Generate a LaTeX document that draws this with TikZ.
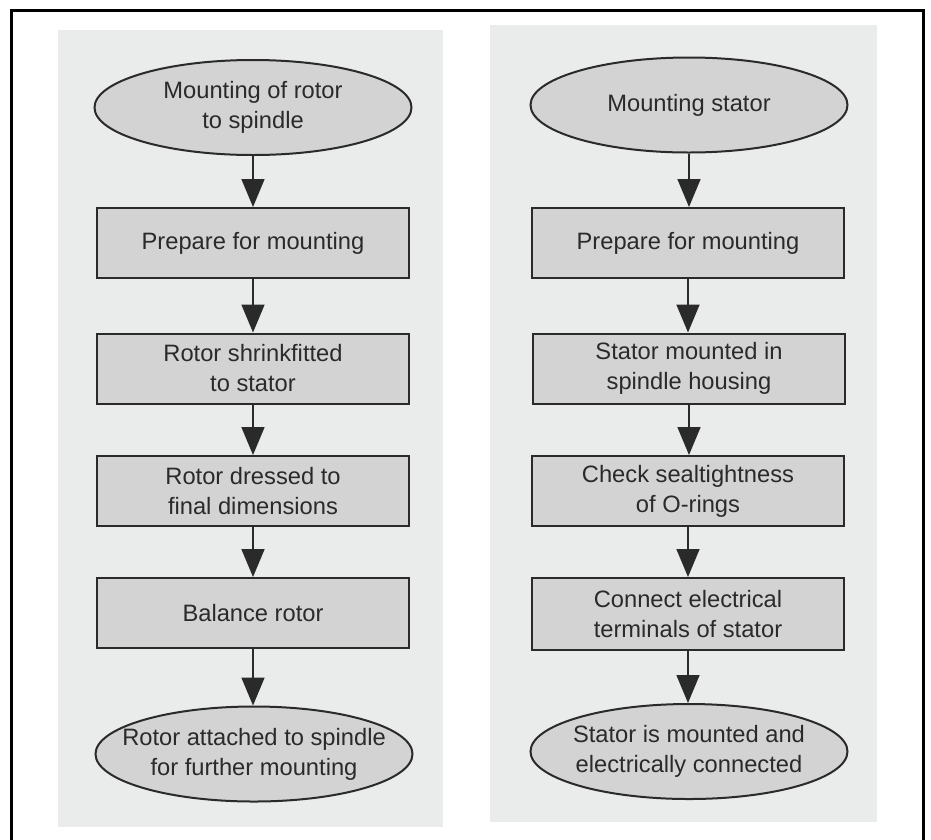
\documentclass[tikz,border=0pt]{standalone}
\usepackage{fontspec}
\setmainfont{Liberation Sans}
\usetikzlibrary{shapes.geometric,arrows.meta}
\definecolor{panelbg}{HTML}{EAECEB}
\definecolor{nodefill}{HTML}{D2D3D2}
\definecolor{ink}{HTML}{2A2A2A}
\tikzset{
  steptext/.style={text=ink,align=center,font=\fontsize{23.7}{30}\selectfont,inner sep=0pt},
  stepbox/.style={draw=ink,line width=2pt,fill=nodefill,rectangle,
    minimum width=312pt,minimum height=70pt,steptext},
  terminal/.style={draw=ink,line width=2pt,fill=nodefill,ellipse,inner sep=0pt,
    minimum width=317pt,minimum height=95pt,label={[steptext]center:#1}},
  flow/.style={draw=ink,line width=1.7pt,-{Triangle[width=23pt,length=28pt]}},
  panel/.style={fill=panelbg,draw=none}
}
\begin{document}
\begin{tikzpicture}[x=1pt,y=-1pt]
\useasboundingbox (0,0) rectangle (931,839);
\clip (0,0) rectangle (931,839);
\fill[white] (0,0) rectangle (931,839);
% outer frame, open at the bottom edge of the page
\draw[black,line width=3pt] (11.5,860) -- (11.5,10.5) -- (923,10.5) -- (923,860);
% column backgrounds
\fill[panel] (58,30) rectangle (443,827);
\fill[panel] (490,25) rectangle (877,822);

% rotor column
\node[terminal={Mounting of rotor\\to spindle}] (r0) at (253,107.5) {};
\node[stepbox] (r1) at (253,243) {Prepare for mounting};
\node[stepbox] (r2) at (253,368.5) {Rotor shrinkfitted\\to stator};
\node[stepbox] (r3) at (253,491) {Rotor dressed to\\final dimensions};
\node[stepbox] (r4) at (253,613) {Balance rotor};
\node[terminal={Rotor attached to spindle\\for further mounting}] (r5) at (254,754) {};

% stator column
\node[terminal={Mounting stator}] (s0) at (689,105) {};
\node[stepbox] (s1) at (688,243) {Prepare for mounting};
\node[stepbox] (s2) at (689,368.5) {Stator mounted in\\spindle housing};
\node[stepbox] (s3) at (688,491) {Check sealtightness\\of O-rings};
\node[stepbox,minimum height=72pt] (s4) at (688,614) {Connect electrical\\terminals of stator};
\node[terminal={Stator is mounted and\\electrically connected}] (s5) at (689,751.5) {};

% connectors, kept vertical under each source node
\foreach \a/\b in {r0/r1,r1/r2,r2/r3,r3/r4,r4/r5,s0/s1,s1/s2,s2/s3,s3/s4,s4/s5}
  \draw[flow] (\a.south) -- (\a.south |- \b.north);
\end{tikzpicture}
\end{document}
